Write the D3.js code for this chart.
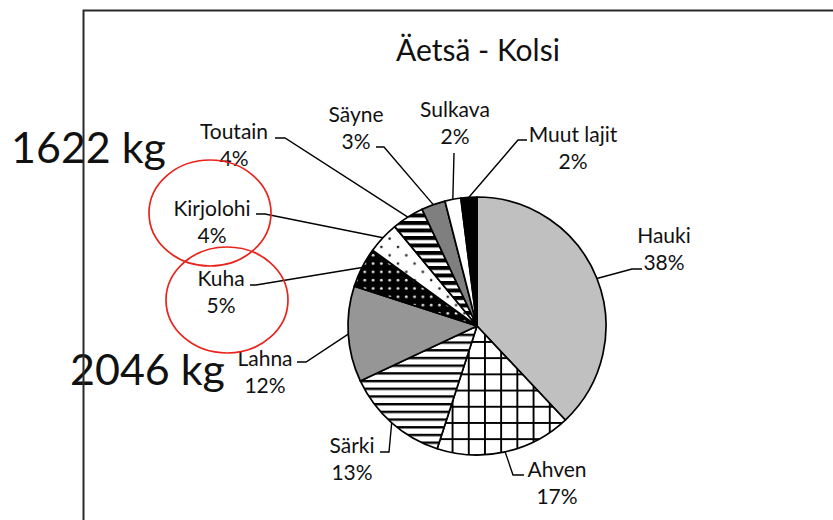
<!DOCTYPE html>
<html>
<head>
<meta charset="utf-8">
<script src="https://cdn.jsdelivr.net/npm/d3@7"></script>
<style>
  html, body { margin: 0; padding: 0; background: #fff; }
  svg { display: block; }
  text { font-family: Lato, "Open Sans", sans-serif; fill: #111; }
</style>
</head>
<body>
<script>
// ---------- data ----------
const title = "Äetsä - Kolsi";
const species = ["Hauki", "Ahven", "Särki", "Lahna", "Kuha", "Kirjolohi", "Toutain", "Säyne", "Sulkava", "Muut lajit"];
const shares = [38, 17, 13, 12, 5, 4, 4, 3, 2, 2];
const annotations = ["1622 kg", "2046 kg"];
const highlighted = ["Kirjolohi", "Kuha"];

// ---------- styles / layout ----------
const W = 833, H = 520;
const cx = 477, cy = 326, R = 129;
const fills = ["#c0c0c0", "url(#grid)", "url(#hstripe)", "#969696", "url(#dotsBlack)",
               "url(#dotsWhite)", "url(#hstripeDark)", "#7f7f7f", "#ffffff", "#000000"];
const lineGap = 27;
const labelLayout = {
  "Hauki":      { x: 664, y: 243, pts: [[632, 269], [642, 269]] },
  "Ahven":      { x: 557, y: 477, pts: [[513, 475], [524, 475]] },
  "Särki":      { x: 352, y: 453, pts: [[389, 452], [380, 452]] },
  "Lahna":      { x: 265, y: 366, pts: [[306, 362], [297, 362]] },
  "Kuha":       { x: 221, y: 286, pts: [[256, 285], [250, 285]] },
  "Kirjolohi":  { x: 212, y: 216, pts: [[265, 214], [256, 214]] },
  "Toutain":    { x: 234, y: 139, pts: [[285, 138], [275, 138]] },
  "Säyne":      { x: 356, y: 122, pts: [[384, 147], [376, 147]] },
  "Sulkava":    { x: 455, y: 117, pts: [[454, 153]] },
  "Muut lajit": { x: 573, y: 142, pts: [[518, 140], [527, 140]] }
};
const ellipseLayout = {
  "Kirjolohi": { cx: 210, cy: 213 },
  "Kuha":      { cx: 227, cy: 300 }
};

const svg = d3.select("body").append("svg").attr("width", W).attr("height", H);

// patterns
const defs = svg.append("defs");
// grid (Ahven)
const pg = defs.append("pattern").attr("id", "grid").attr("patternUnits", "userSpaceOnUse")
  .attr("width", 16.2).attr("height", 16.2).attr("x", 7).attr("y", 15);
pg.append("rect").attr("width", 16.2).attr("height", 16.2).attr("fill", "#fff");
pg.append("rect").attr("x", 0).attr("y", 0).attr("width", 1.9).attr("height", 16.2).attr("fill", "#000");
pg.append("rect").attr("x", 0).attr("y", 0).attr("width", 16.2).attr("height", 1.9).attr("fill", "#000");
// wide horizontal (Särki)
const ph = defs.append("pattern").attr("id", "hstripe").attr("patternUnits", "userSpaceOnUse")
  .attr("width", 8).attr("height", 7.7);
ph.append("rect").attr("width", 8).attr("height", 7.7).attr("fill", "#fff");
ph.append("rect").attr("y", 0).attr("width", 8).attr("height", 2.4).attr("fill", "#000");
// dark horizontal (Toutain)
const phd = defs.append("pattern").attr("id", "hstripeDark").attr("patternUnits", "userSpaceOnUse")
  .attr("width", 8).attr("height", 7.5);
phd.append("rect").attr("width", 8).attr("height", 7.5).attr("fill", "#fff");
phd.append("rect").attr("y", 0).attr("width", 8).attr("height", 4).attr("fill", "#000");
// black with white dots (Kuha)
const pdb = defs.append("pattern").attr("id", "dotsBlack").attr("patternUnits", "userSpaceOnUse")
  .attr("width", 8.3).attr("height", 8.3);
pdb.append("rect").attr("width", 8.3).attr("height", 8.3).attr("fill", "#000");
pdb.append("circle").attr("cx", 4).attr("cy", 4).attr("r", 1.4).attr("fill", "#e0e0e0");
// white with black dots (Kirjolohi)
const pdw = defs.append("pattern").attr("id", "dotsWhite").attr("patternUnits", "userSpaceOnUse")
  .attr("width", 16.6).attr("height", 16.6);
pdw.append("rect").attr("width", 16.6).attr("height", 16.6).attr("fill", "#fff");
pdw.append("circle").attr("cx", 4).attr("cy", 4).attr("r", 1.3).attr("fill", "#222");
pdw.append("circle").attr("cx", 12.3).attr("cy", 12.3).attr("r", 1.3).attr("fill", "#222");

// big annotations (drawn under the frame)
svg.append("text").attr("x", 11).attr("y", 163).attr("font-size", 43).text(annotations[0]);
svg.append("text").attr("x", 70).attr("y", 385).attr("font-size", 43).text(annotations[1]);

// chart frame
svg.append("path").attr("d", `M83.5,${H + 5} V10.5 H${W + 5}`)
  .attr("fill", "none").attr("stroke", "#2a2a2a").attr("stroke-width", 2);

// title
svg.append("text").attr("x", 478).attr("y", 61).attr("text-anchor", "middle")
  .attr("font-size", 30).text(title);

// pie
const pie = d3.pie().sort(null).value(d => d);
const arcs = pie(shares);
const arc = d3.arc().innerRadius(0).outerRadius(R);
const edge = d3.arc().innerRadius(R).outerRadius(R);
const g = svg.append("g").attr("transform", `translate(${cx},${cy})`);
g.selectAll("path.slice").data(arcs).join("path")
  .attr("class", "slice")
  .attr("d", arc)
  .attr("fill", (d, i) => fills[i])
  .attr("stroke", "#000").attr("stroke-width", 1.7).attr("stroke-linejoin", "round");

// leader lines
const line = d3.line();
arcs.forEach((d, i) => {
  const L = labelLayout[species[i]];
  const c = edge.centroid(d);
  const p0 = [cx + c[0], cy + c[1]];
  svg.append("path").attr("d", line([p0, ...L.pts]))
    .attr("fill", "none").attr("stroke", "#000").attr("stroke-width", 1.4);
});

// labels
arcs.forEach((d, i) => {
  const L = labelLayout[species[i]];
  const t = svg.append("text").attr("text-anchor", "middle").attr("font-size", 21);
  t.append("tspan").attr("x", L.x).attr("y", L.y).text(species[i]);
  t.append("tspan").attr("x", L.x).attr("y", L.y + lineGap).text(shares[i] + "%");
});

// red highlight ellipses
highlighted.forEach(name => {
  const E = ellipseLayout[name];
  svg.append("ellipse").attr("cx", E.cx).attr("cy", E.cy)
    .attr("rx", 61).attr("ry", 53)
    .attr("fill", "none").attr("stroke", "#e8241c").attr("stroke-width", 1.7);
});
</script>
</body>
</html>
